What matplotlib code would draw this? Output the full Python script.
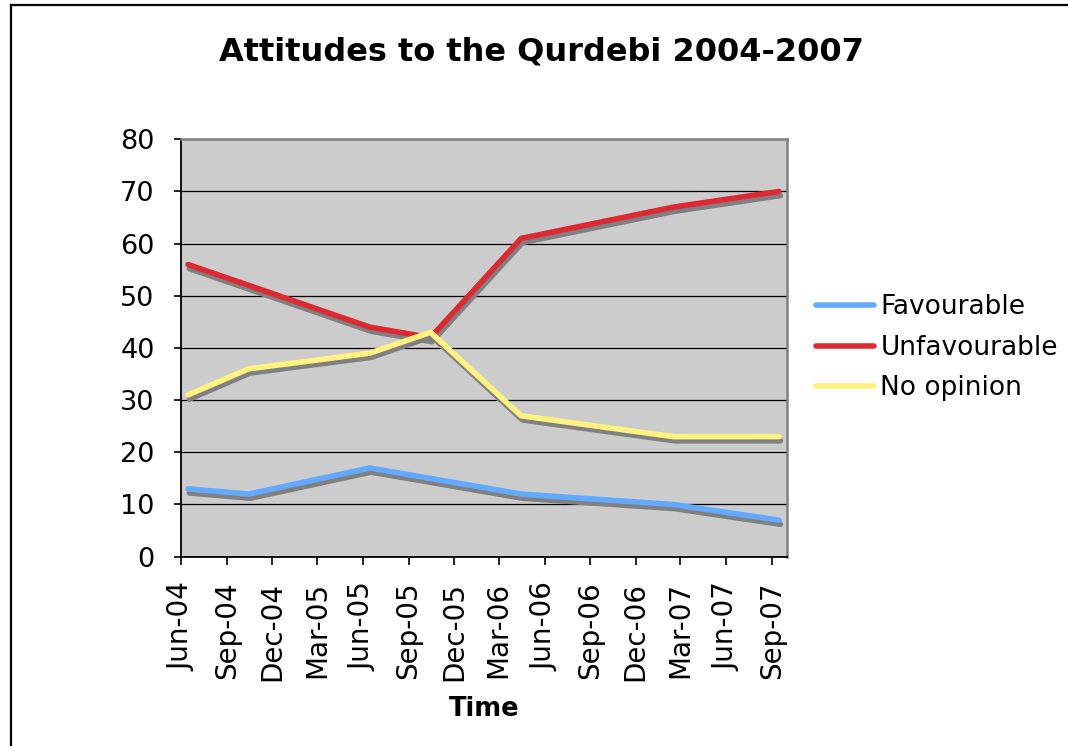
#!/usr/bin/env python3
# plot.py
# Line chart of attitudes to the Qurdebi, 2004-2007

import datetime
import matplotlib
matplotlib.use('Agg')
import matplotlib.pyplot as plt
import matplotlib.dates as mdates
import matplotlib.patheffects as pe
from matplotlib.lines import Line2D


#############
# Data
#############

survey_dates = ['2004-06-15', '2004-10-15', '2005-06-15', '2005-10-15',
                '2006-04-15', '2007-02-15', '2007-09-15']
favourable = [13, 12, 17, 15, 12, 10, 7]
unfavourable = [56, 52, 44, 42, 61, 67, 70]
no_opinion = [31, 36, 39, 43, 27, 23, 23]

series_names = ['Favourable', 'Unfavourable', 'No opinion']
series_colors = ['#62aaff', '#dd2a32', '#fff27f']

dates = [datetime.datetime.strptime(d, '%Y-%m-%d') for d in survey_dates]


##############
# Create Graph
##############

plt.rcParams['font.family'] = 'DejaVu Sans'

fig = plt.figure(figsize=(10.68, 7.46), dpi=100)
ax = fig.add_axes([0.1695, 0.2538, 0.5674, 0.5595])
ax.set_facecolor('#cccccc')

shadow = [pe.SimpleLineShadow(offset=(1, -3), shadow_color='#808080', alpha=1.0),
          pe.Normal()]

for values, name, color in zip([favourable, unfavourable, no_opinion],
                               series_names, series_colors):
    ax.plot(dates, values, color=color, lw=4,
            solid_capstyle='round', solid_joinstyle='round',
            path_effects=shadow, zorder=3)

# Axes limits and ticks
ax.set_ylim(0, 80)
ax.set_yticks(range(0, 81, 10))
ax.set_xlim(datetime.datetime(2004, 6, 1), datetime.datetime(2007, 10, 1))
ax.xaxis.set_major_locator(mdates.MonthLocator(bymonth=[3, 6, 9, 12]))
ax.xaxis.set_major_formatter(mdates.DateFormatter('%b-%y'))
ax.tick_params(axis='x', labelsize=20, rotation=90, length=6, width=1.2, pad=12)
ax.tick_params(axis='y', labelsize=19.5, length=5, width=1.2, pad=14)

ax.yaxis.grid(True, color='black', lw=0.9)
ax.set_axisbelow(True)

for side in ['left', 'bottom']:
    ax.spines[side].set_color('black')
    ax.spines[side].set_linewidth(1.3)
for side in ['top', 'right']:
    ax.spines[side].set_color('#808080')
    ax.spines[side].set_linewidth(1.8)

ax.set_xlabel('Time', fontsize=18.5, fontweight='bold', labelpad=11)
fig.suptitle('Attitudes to the Qurdebi 2004-2007', fontsize=23,
             fontweight='bold', x=0.507, y=0.93, va='center')

# Legend without the line shadows
handles = [Line2D([0], [0], color=c, lw=4, solid_capstyle='round')
           for c in series_colors]
leg = ax.legend(handles, series_names, loc='center left',
                bbox_to_anchor=(1.03, 0.5), frameon=False,
                fontsize=19, handlelength=2.2, handletextpad=0.25,
                labelspacing=0.55, borderaxespad=0)

# Outer chart border (left and top edges only visible)
fig.add_artist(Line2D([11 / 1068, 11 / 1068], [0, 1 - 5 / 746],
                      color='black', lw=1.6))
fig.add_artist(Line2D([11 / 1068, 1], [1 - 5 / 746, 1 - 5 / 746],
                      color='black', lw=1.6))

fig.savefig('out.png', dpi=100)
print('Saved out.png')
